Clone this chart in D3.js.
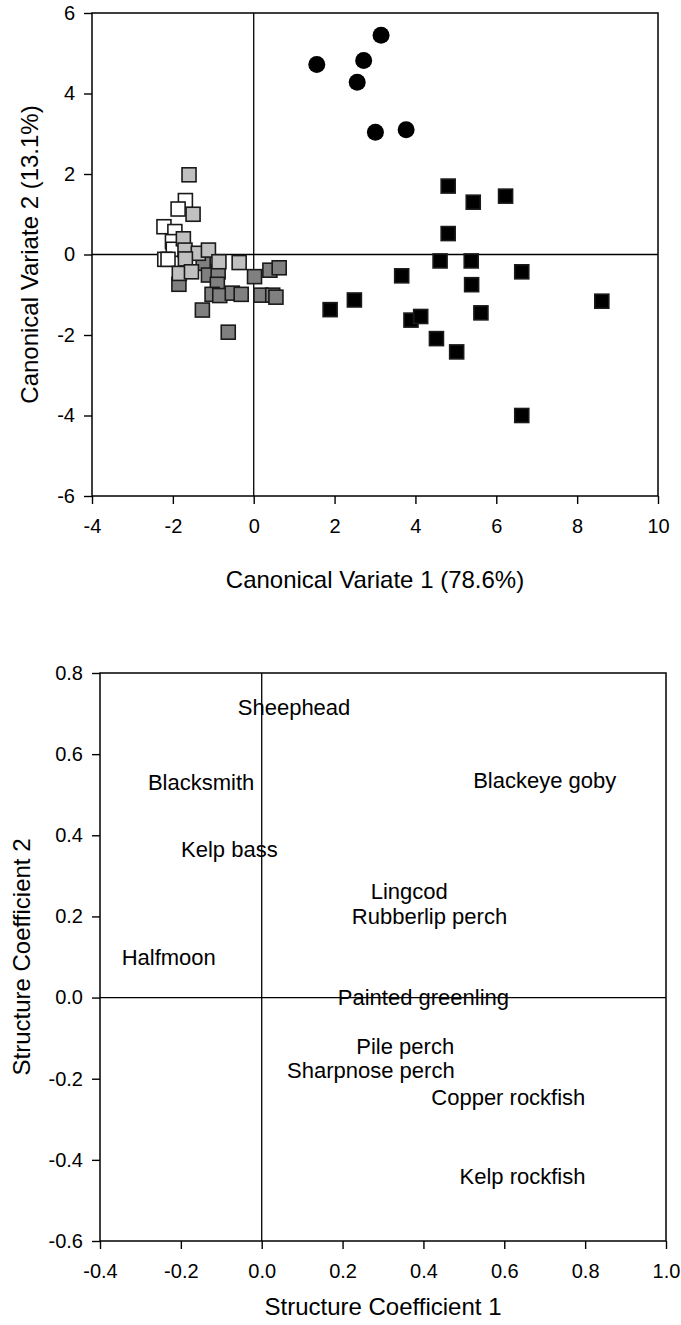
<!DOCTYPE html>
<html>
<head>
<meta charset="utf-8">
<script src="https://cdn.jsdelivr.net/npm/d3@7"></script>
<style>
  html, body { margin: 0; padding: 0; background: #fff; }
  svg { display: block; font-family: "Liberation Sans", Arial, sans-serif; }
</style>
</head>
<body>
<svg id="chart" width="681" height="1325"></svg>
<script>
// Canonical variate scores, grouped by site type
const siteWhiteX = [-1.69, -1.87, -2.22, -1.95, -2.01, -1.99, -2.20, -2.12];
const siteWhiteY = [1.34, 1.13, 0.69, 0.57, 0.32, 0.13, -0.12, -0.12];

const siteDarkX = [-1.25, -1.12, -0.88, -0.90, -1.85, -1.03, -0.84, -0.53, -0.31, 0.02, 0.40, 0.63, 0.18, 0.47, 0.55, -1.27, -0.63];
const siteDarkY = [-0.22, -0.51, -0.43, -0.74, -0.74, -0.99, -1.02, -0.96, -0.99, -0.55, -0.39, -0.33, -1.01, -1.01, -1.06, -1.38, -1.93];

const siteLightX = [-1.60, -1.50, -1.74, -1.70, -1.37, -1.12, -1.69, -1.84, -1.54, -0.86, -0.36];
const siteLightY = [1.98, 1.00, 0.39, 0.11, 0.03, 0.11, -0.11, -0.47, -0.43, -0.18, -0.20];

const siteBlackX = [4.81, 5.43, 6.23, 4.81, 4.61, 5.38, 3.66, 6.63, 5.39, 2.49, 1.89, 8.61, 3.89, 4.13, 5.62, 4.52, 5.02, 6.63];
const siteBlackY = [1.70, 1.30, 1.45, 0.52, -0.16, -0.16, -0.53, -0.43, -0.75, -1.13, -1.37, -1.16, -1.63, -1.54, -1.45, -2.09, -2.42, -4.00];

const siteCircleX = [3.15, 1.56, 2.72, 2.56, 3.01, 3.77];
const siteCircleY = [5.45, 4.72, 4.82, 4.28, 3.04, 3.10];

const cvTicksX = [-4, -2, 0, 2, 4, 6, 8, 10];
const cvTicksY = [-6, -4, -2, 0, 2, 4, 6];

// Structure coefficients for each species
const species = ["Sheephead", "Blacksmith", "Blackeye goby", "Kelp bass", "Lingcod", "Rubberlip perch",
  "Halfmoon", "Painted greenling", "Pile perch", "Sharpnose perch", "Copper rockfish", "Kelp rockfish"];
const coef1 = [0.08, -0.15, 0.70, -0.08, 0.365, 0.415, -0.23, 0.40, 0.355, 0.27, 0.61, 0.645];
const coef2 = [0.715, 0.53, 0.535, 0.365, 0.263, 0.200, 0.10, 0.00, -0.12, -0.18, -0.245, -0.44];

const scTicksX = [-0.4, -0.2, 0.0, 0.2, 0.4, 0.6, 0.8, 1.0];
const scTicksY = [-0.6, -0.4, -0.2, 0.0, 0.2, 0.4, 0.6, 0.8];

const svg = d3.select("#chart");
const fmtInt = d => String(d);
const fmt1 = d => d.toFixed(1);

function frame(g, x, y, xTicks, yTicks, xFmt, yFmt) {
  const [x0, x1] = x.range();
  const [y0, y1] = y.range();
  g.append("g")
    .attr("transform", `translate(0,${y0})`)
    .call(d3.axisBottom(x).tickValues(xTicks).tickFormat(xFmt).tickSize(8).tickSizeOuter(0).tickPadding(15))
    .call(a => a.select(".domain").remove());
  g.append("g")
    .attr("transform", `translate(${x0},0)`)
    .call(d3.axisLeft(y).tickValues(yTicks).tickFormat(yFmt).tickSize(8).tickSizeOuter(0).tickPadding(9))
    .call(a => a.select(".domain").remove());
  g.selectAll(".tick text").attr("font-size", 20).attr("fill", "#000").attr("font-family", "Liberation Sans, Arial, sans-serif");
  g.selectAll(".tick line").attr("stroke", "#000").attr("stroke-width", 1.4);
  g.append("rect")
    .attr("x", x0).attr("y", y1)
    .attr("width", x1 - x0).attr("height", y0 - y1)
    .attr("fill", "none").attr("stroke", "#000").attr("stroke-width", 1.5);
  // zero reference lines
  g.append("line").attr("x1", x(0)).attr("x2", x(0)).attr("y1", y0).attr("y2", y1)
    .attr("stroke", "#000").attr("stroke-width", 1.3);
  g.append("line").attr("x1", x0).attr("x2", x1).attr("y1", y(0)).attr("y2", y(0))
    .attr("stroke", "#000").attr("stroke-width", 1.3);
}

// ---------- Canonical variate plot ----------
const xCV = d3.scaleLinear().domain([-4, 10]).range([92, 658]);
const yCV = d3.scaleLinear().domain([-6, 6]).range([496, 13]);
const cvPlot = svg.append("g");
frame(cvPlot, xCV, yCV, cvTicksX, cvTicksY, fmtInt, fmtInt);

const sq = 14;
function squares(xs, ys, fill) {
  cvPlot.append("g").selectAll("rect")
    .data(xs.map((v, i) => [v, ys[i]]))
    .join("rect")
    .attr("x", d => xCV(d[0]) - sq / 2)
    .attr("y", d => yCV(d[1]) - sq / 2)
    .attr("width", sq).attr("height", sq)
    .attr("fill", fill).attr("stroke", "#1a1a1a").attr("stroke-width", 1.6);
}
squares(siteWhiteX, siteWhiteY, "#ffffff");
squares(siteDarkX, siteDarkY, "#808080");
squares(siteLightX, siteLightY, "#c0c0c0");
squares(siteBlackX, siteBlackY, "#000000");

cvPlot.append("g").selectAll("circle")
  .data(siteCircleX.map((v, i) => [v, siteCircleY[i]]))
  .join("circle")
  .attr("cx", d => xCV(d[0])).attr("cy", d => yCV(d[1]))
  .attr("r", 8.5).attr("fill", "#000");

cvPlot.append("text")
  .attr("x", (xCV.range()[0] + xCV.range()[1]) / 2).attr("y", 580)
  .attr("dy", "0.35em")
  .attr("text-anchor", "middle").attr("font-size", 24)
  .text("Canonical Variate 1 (78.6%)");
cvPlot.append("text")
  .attr("transform", `translate(30,${(yCV.range()[0] + yCV.range()[1]) / 2}) rotate(-90)`)
  .attr("dy", "0.35em")
  .attr("text-anchor", "middle").attr("font-size", 24)
  .text("Canonical Variate 2 (13.1%)");

// ---------- Structure coefficient plot ----------
const xSC = d3.scaleLinear().domain([-0.4, 1.0]).range([100, 666]);
const ySC = d3.scaleLinear().domain([-0.6, 0.8]).range([1241, 673]);
const scPlot = svg.append("g");
frame(scPlot, xSC, ySC, scTicksX, scTicksY, fmt1, fmt1);

scPlot.append("g").selectAll("text")
  .data(species.map((s, i) => ({ s, x: coef1[i], y: coef2[i] })))
  .join("text")
  .attr("x", d => xSC(d.x)).attr("y", d => ySC(d.y))
  .attr("dy", "0.35em")
  .attr("text-anchor", "middle").attr("font-size", 22)
  .text(d => d.s);

scPlot.append("text")
  .attr("x", (xSC.range()[0] + xSC.range()[1]) / 2).attr("y", 1307)
  .attr("dy", "0.35em")
  .attr("text-anchor", "middle").attr("font-size", 24)
  .text("Structure Coefficient 1");
scPlot.append("text")
  .attr("transform", `translate(22,${(ySC.range()[0] + ySC.range()[1]) / 2}) rotate(-90)`)
  .attr("dy", "0.35em")
  .attr("text-anchor", "middle").attr("font-size", 24)
  .text("Structure Coefficient 2");
</script>
</body>
</html>
